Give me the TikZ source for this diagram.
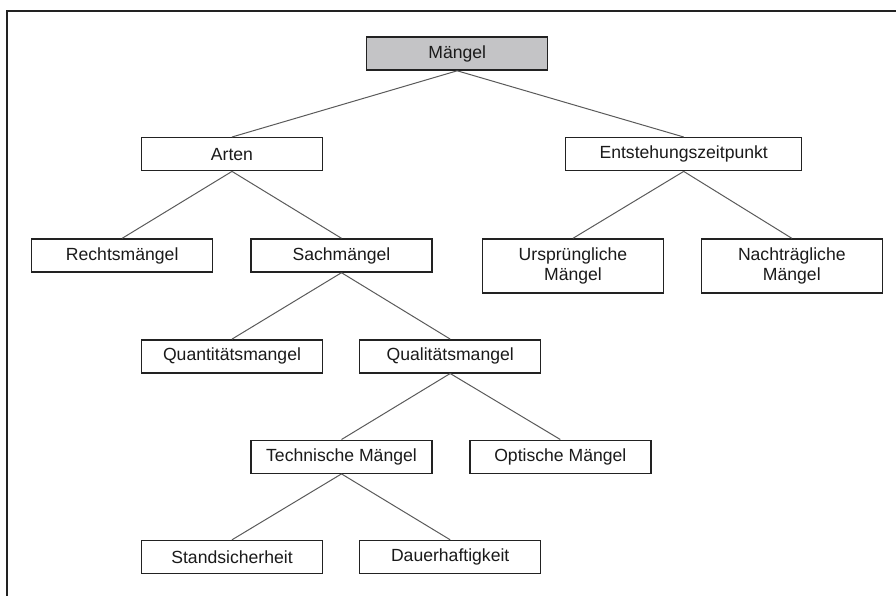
\documentclass[tikz,border=0pt]{standalone}
\usepackage{fontspec}
\setmainfont{Liberation Sans}
\definecolor{boxline}{HTML}{222222}
\definecolor{linkline}{HTML}{5A5A5A}
\definecolor{rootfill}{HTML}{C4C4C6}
\definecolor{txt}{HTML}{1A1A1A}
\begin{document}
\begin{tikzpicture}[x=1pt,y=-1pt,
  box/.style={draw=boxline, line width=1.4pt, fill=white, inner sep=0pt,
    minimum width=181pt, minimum height=33pt, align=center, text=txt,
    font=\fontsize{17.6}{20}\selectfont},
  tallbox/.style={box, minimum height=54pt},
  conn/.style={draw=linkline, line width=1pt}]
\useasboundingbox (0,0) rectangle (896,596);
% outer frame (only top and left edges fall inside the page)
\draw[boxline, line width=1.5pt] (7,620) -- (7,11) -- (920,11);

% nodes
\node[box, fill=rootfill] (root) at (457.2,53.6) {Mängel};
\node[box] (arten) at (232,154.2) {Arten};
\node[box, minimum width=236pt] (entst) at (683.7,154.2) {Entstehungszeitpunkt};
\node[box] (rechts) at (122.2,255.5) {Rechtsmängel};
\node[box] (sach) at (341.5,255.5) {Sachmängel};
\node[tallbox] (urspr) at (573,266) {Ursprüngliche\\Mängel};
\node[tallbox] (nachtr) at (791.8,266) {Nachträgliche\\Mängel};
\node[box] (quant) at (232,356.3) {Quantitätsmangel};
\node[box] (qual) at (450.2,356.3) {Qualitätsmangel};
\node[box] (tech) at (341.5,456.7) {Technische Mängel};
\node[box] (opt) at (560.3,456.7) {Optische Mängel};
\node[box] (stand) at (232,557) {Standsicherheit};
\node[box] (dauer) at (450.2,557) {Dauerhaftigkeit};

% connectors
\draw[conn] (root.south) -- (arten.north);
\draw[conn] (root.south) -- (entst.north);
\draw[conn] (arten.south) -- (rechts.north);
\draw[conn] (arten.south) -- (sach.north);
\draw[conn] (entst.south) -- (urspr.north);
\draw[conn] (entst.south) -- (nachtr.north);
\draw[conn] (sach.south) -- (quant.north);
\draw[conn] (sach.south) -- (qual.north);
\draw[conn] (qual.south) -- (tech.north);
\draw[conn] (qual.south) -- (opt.north);
\draw[conn] (tech.south) -- (stand.north);
\draw[conn] (tech.south) -- (dauer.north);
\end{tikzpicture}
\end{document}
